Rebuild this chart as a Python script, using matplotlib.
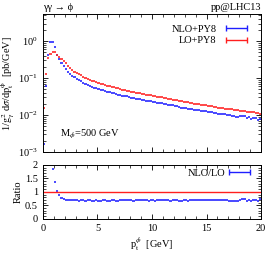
import numpy as np
import matplotlib
matplotlib.use("Agg")
import matplotlib.pyplot as plt
from matplotlib.ticker import MultipleLocator, LogLocator, NullFormatter
from matplotlib.legend_handler import HandlerErrorbar

plt.rcParams['font.family'] = ['Liberation Serif', 'DejaVu Serif']
plt.rcParams['mathtext.fontset'] = 'stix'

bin_width = 0.2
pt_centers = [0.1 + 0.2 * i for i in range(100)]

lo_py8 = [0.0155, 0.126, 0.36, 0.44, 0.50, 0.50, 0.42, 0.365, 0.335, 0.29,
          0.25, 0.215, 0.185, 0.162, 0.150, 0.139, 0.128, 0.119, 0.110, 0.102,
          0.094, 0.0898, 0.0858, 0.0819, 0.0782, 0.0747, 0.0713, 0.0681, 0.065, 0.0627,
          0.0605, 0.0584, 0.0564, 0.0544, 0.0525, 0.0507, 0.0489, 0.0472, 0.0456, 0.0440,
          0.0425, 0.0415, 0.0405, 0.0395, 0.0385, 0.0376, 0.0367, 0.0358, 0.0349, 0.0340,
          0.0332, 0.0324, 0.0316, 0.0308, 0.0300, 0.0293, 0.0285, 0.0278, 0.0271, 0.0264,
          0.0257, 0.0251, 0.0244, 0.0238, 0.0232, 0.0226, 0.0220, 0.0215, 0.0209, 0.0204,
          0.0199, 0.0194, 0.0190, 0.0186, 0.0182, 0.0178, 0.0174, 0.0171, 0.0167, 0.0164,
          0.0160, 0.0157, 0.0154, 0.0150, 0.0147, 0.0145, 0.0142, 0.0140, 0.0137, 0.0135,
          0.0132, 0.0130, 0.0128, 0.0125, 0.0123, 0.0121, 0.0119, 0.0117, 0.0114, 0.0108]

nlo_py8 = [0.0017, 0.061, 0.42, 0.92, 0.92, 0.675, 0.43, 0.32, 0.255, 0.21,
           0.175, 0.1505, 0.1277, 0.1118, 0.105, 0.0959, 0.0870, 0.0821, 0.0759, 0.0694,
           0.0649, 0.0620, 0.0583, 0.0557, 0.0540, 0.0508, 0.0485, 0.0470, 0.0449, 0.0426,
           0.0411, 0.0403, 0.0389, 0.0370, 0.0357, 0.0350, 0.0333, 0.0326, 0.0319, 0.0304,
           0.0293, 0.0282, 0.0279, 0.0277, 0.0266, 0.0256, 0.0253, 0.0247, 0.0237, 0.0235,
           0.0229, 0.0220, 0.0218, 0.0216, 0.0213, 0.0202, 0.0194, 0.0192, 0.0184, 0.0182,
           0.0177, 0.0171, 0.0166, 0.0159, 0.0158, 0.0154, 0.0147, 0.0148, 0.0146, 0.0141,
           0.0139, 0.0134, 0.0133, 0.0128, 0.0127, 0.0123, 0.0120, 0.0120, 0.0115, 0.0112,
           0.0110, 0.0110, 0.0106, 0.0107, 0.0103, 0.00986, 0.00951, 0.00924, 0.00891, 0.00905,
           0.00924, 0.00975, 0.00922, 0.00850, 0.00861, 0.00799, 0.00821, 0.00831, 0.00752, 0.00788]

ratio_start_bin = 4  # ratio shown from pt = 0.8 GeV

x = np.array(pt_centers)
lo = np.array(lo_py8)
nlo = np.array(nlo_py8)
ratio = nlo / lo

BLUE = '#1f1fff'
RED = '#ff1f1f'
LW = 1.15
fs = 7.5

fig = plt.figure(figsize=(2.70, 2.56), dpi=100)
ax = fig.add_axes([0.159, 0.406, 0.808, 0.539])
axr = fig.add_axes([0.159, 0.145, 0.808, 0.211])

ax.errorbar(x, nlo, xerr=bin_width / 2, fmt='none', ecolor=BLUE, elinewidth=LW, capsize=0)
ax.errorbar(x, lo, xerr=bin_width / 2, fmt='none', ecolor=RED, elinewidth=LW, capsize=0)
# legend proxies (gnuplot-style bars with end caps)
h_nlo = ax.errorbar([np.nan], [np.nan], xerr=[1.0], fmt='none', ecolor=BLUE,
                    elinewidth=1.0, capsize=2, capthick=1.0, label='NLO+PY8')
h_lo = ax.errorbar([np.nan], [np.nan], xerr=[1.0], fmt='none', ecolor=RED,
                   elinewidth=1.0, capsize=2, capthick=1.0, label='LO+PY8')
ax.set_yscale('log')
ax.set_xlim(0, 20)
ax.set_ylim(1e-3, 5.4)
ax.xaxis.set_major_locator(MultipleLocator(5))
ax.xaxis.set_minor_locator(MultipleLocator(1))
ax.set_xticklabels([])
ax.yaxis.set_major_locator(LogLocator(base=10, numticks=10))
ax.yaxis.set_minor_locator(LogLocator(base=10, subs=np.arange(2, 10), numticks=10))
ax.yaxis.set_minor_formatter(NullFormatter())
ax.set_ylabel(r'1/$\mathrm{g^2_{\gamma}}$ d$\sigma$/d$\mathrm{p_t^{\phi}}$  [pb/GeV]',
              fontsize=fs, labelpad=1)

ax.legend(handles=[h_nlo, h_lo], loc='upper right', fontsize=fs, frameon=False,
          markerfirst=False, handlelength=2.7, handletextpad=0.6,
          borderaxespad=0.6, labelspacing=0.2,
          handler_map={type(h_nlo): HandlerErrorbar(xerr_size=1.0)})

ax.text(0.08, 0.13, r'M$_{\phi}$=500 GeV', transform=ax.transAxes, fontsize=fs,
        ha='left', va='center')
ax.text(0.0, 1.012, 'γγ → ϕ', transform=ax.transAxes,
        fontsize=fs, ha='left', va='bottom')
ax.text(1.0, 1.012, 'pp@LHC13', transform=ax.transAxes, fontsize=fs,
        ha='right', va='bottom')

axr.errorbar(x[ratio_start_bin:], ratio[ratio_start_bin:], xerr=bin_width / 2,
             fmt='none', ecolor=BLUE, elinewidth=LW, capsize=0)
h_r = axr.errorbar([np.nan], [np.nan], xerr=[1.0], fmt='none', ecolor=BLUE,
                   elinewidth=1.0, capsize=2, capthick=1.0, label='NLO/LO')
axr.axhline(1.0, color=RED, lw=1.0)
axr.set_xlim(0, 20)
axr.set_ylim(0, 2)
axr.xaxis.set_major_locator(MultipleLocator(5))
axr.xaxis.set_minor_locator(MultipleLocator(1))
axr.yaxis.set_major_locator(MultipleLocator(0.5))
axr.yaxis.set_minor_locator(MultipleLocator(0.1))
axr.yaxis.set_major_formatter(plt.FuncFormatter(lambda v, p: ('%g' % v)))
axr.set_ylabel('Ratio', fontsize=fs, labelpad=2)
axr.set_xlabel(r'p$_\mathrm{t}^{\phi}$  [GeV]', fontsize=fs, labelpad=2)
axr.legend(handles=[h_r], loc='upper right', bbox_to_anchor=(0.95, 0.97),
           fontsize=fs, frameon=False,
           markerfirst=False, handlelength=1.6, handletextpad=0.6,
           borderaxespad=0.0, borderpad=0.2,
           handler_map={type(h_r): HandlerErrorbar(xerr_size=1.0)})

for a in (ax, axr):
    a.tick_params(which='both', direction='in', top=True, right=True, labelsize=fs)
    a.tick_params(which='major', length=3.5, width=0.6)
    a.tick_params(which='minor', length=2, width=0.5)
    for s in a.spines.values():
        s.set_linewidth(0.7)

fig.savefig('out.png', dpi=100)
